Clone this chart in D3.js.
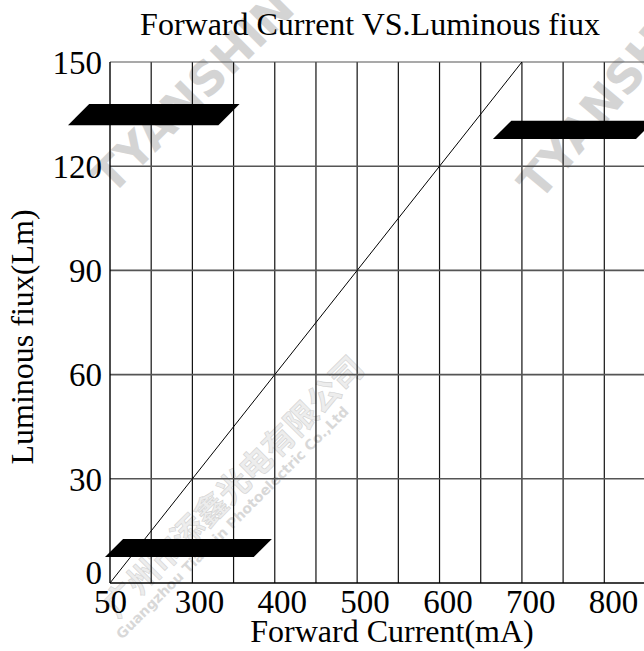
<!DOCTYPE html>
<html>
<head>
<meta charset="utf-8">
<script src="https://cdn.jsdelivr.net/npm/d3@7"></script>
<style>
  body { margin: 0; background: #fff; }
  svg { display: block; }
</style>
</head>
<body>
<div id="chart"></div>
<script>
// values
const currentTicks = [50, 300, 400, 500, 600, 700, 800];
const fluxTicks = [0, 30, 60, 90, 120, 150];
const lineCurrent = [50, 690];
const lineFlux = [0, 150];
// black patches that cover the original labels (current at the two corners, flux band)
const patchFrom = [-68, 655, 36];
const patchTo = [349, 850, 388];
const patchLow = [131.8, 127.8, 7.5];
const patchHigh = [137.9, 133.1, 12.7];

function drawChart() {
  let width = 644;
  let height = 651;
  let margin = { top: 62, left: 110, bottom: 68 };
  let serif = "'Liberation Serif', 'Times New Roman', serif";

  let svg = d3.select('#chart')
    .append('svg')
    .attr('width', width)
    .attr('height', height)
    .style('background', '#fff');

  // the axis jumps from 50 straight to 300, so the scale is piecewise
  let xScale = d3.scaleLinear()
    .domain([50, 300, 800])
    .range([margin.left, 199, 613]);
  let yScale = d3.scaleLinear()
    .domain([0, 150])
    .range([height - margin.bottom, margin.top]);
  // grid columns: ten of them span the drawn line
  let colScale = d3.scaleLinear()
    .domain([0, 10])
    .range([xScale(lineCurrent[0]), xScale(lineCurrent[1])]);

  // watermarks
  let wm = svg.append('g').attr('pointer-events', 'none');
  wm.append('text')
    .attr('transform', 'translate(112,196) rotate(-45)')
    .attr('font-family', "'DejaVu Sans', sans-serif")
    .attr('font-weight', 'bold')
    .attr('font-size', 46)
    .attr('fill', '#d4d4d4')
    .text('TYANSHIN');
  wm.append('text')
    .attr('transform', 'translate(540,202) rotate(-50)')
    .attr('font-family', "'DejaVu Sans', sans-serif")
    .attr('font-weight', 'bold')
    .attr('font-size', 46)
    .attr('fill', '#d4d4d4')
    .text('TYANSHIN');
  wm.append('text')
    .attr('transform', 'translate(117,619) rotate(-45)')
    .attr('font-family', "'Noto Sans CJK SC', sans-serif")
    .attr('font-weight', 'bold')
    .attr('font-size', 32)
    .attr('fill', '#ededed')
    .attr('stroke', '#d2d2d2')
    .attr('stroke-width', 0.6)
    .text('广州市添鑫光电有限公司');
  wm.append('text')
    .attr('transform', 'translate(122,640) rotate(-45)')
    .attr('font-family', "'DejaVu Sans', sans-serif")
    .attr('font-weight', 'bold')
    .attr('font-size', 14)
    .attr('fill', '#d8d8d8')
    .text('Guangzhou Tianxin Photoelectric Co.,Ltd');

  // vertical grid lines
  svg.append('g')
    .selectAll('line')
    .data(d3.range(1, 14))
    .enter()
    .append('line')
    .attr('x1', d => colScale(d))
    .attr('x2', d => colScale(d))
    .attr('y1', yScale(150))
    .attr('y2', yScale(0))
    .attr('stroke', '#111')
    .attr('stroke-width', 1.2);

  // horizontal grid lines
  svg.append('g')
    .selectAll('line')
    .data(fluxTicks)
    .enter()
    .append('line')
    .attr('x1', margin.left)
    .attr('x2', width)
    .attr('y1', d => yScale(d))
    .attr('y2', d => yScale(d))
    .attr('stroke', d => d === 0 ? '#000' : '#555')
    .attr('stroke-width', d => d === 150 ? 1.2 : 1.6);

  // left axis line
  svg.append('line')
    .attr('x1', margin.left)
    .attr('x2', margin.left)
    .attr('y1', yScale(150))
    .attr('y2', yScale(0))
    .attr('stroke', '#000')
    .attr('stroke-width', 1.4);

  // the curve
  let line = d3.line()
    .x(d => xScale(d[0]))
    .y(d => yScale(d[1]));
  svg.append('path')
    .datum(d3.zip(lineCurrent, lineFlux))
    .attr('d', line)
    .attr('fill', 'none')
    .attr('stroke', '#000')
    .attr('stroke-width', 1);

  // black patches
  svg.append('g')
    .selectAll('path')
    .data(d3.range(patchFrom.length))
    .enter()
    .append('path')
    .attr('d', i => {
      let x0 = xScale(patchFrom[i]);
      let x1 = xScale(patchTo[i]);
      let yLo = yScale(patchLow[i]);
      let yHi = yScale(patchHigh[i]);
      let skew = yLo - yHi;
      return 'M' + x0 + ',' + yLo + 'L' + (x0 + skew) + ',' + yHi +
        'L' + x1 + ',' + yHi + 'L' + (x1 - skew) + ',' + yLo + 'Z';
    })
    .attr('fill', '#000');

  // x ticks
  let xAxis = d3.axisBottom(xScale)
    .tickValues(currentTicks)
    .tickSize(0)
    .tickPadding(7)
    .tickFormat(d3.format('d'));
  let gx = svg.append('g')
    .attr('transform', 'translate(0,' + yScale(0) + ')')
    .call(xAxis);
  gx.select('.domain').remove();
  gx.selectAll('text')
    .attr('font-family', serif)
    .attr('font-size', 33)
    .attr('fill', '#000');

  // y ticks
  let yAxis = d3.axisLeft(yScale)
    .tickValues(fluxTicks)
    .tickSize(0)
    .tickPadding(8)
    .tickFormat(d3.format('d'));
  let gy = svg.append('g')
    .attr('transform', 'translate(' + margin.left + ',0)')
    .call(yAxis);
  gy.select('.domain').remove();
  gy.selectAll('text')
    .attr('font-family', serif)
    .attr('font-size', 33)
    .attr('fill', '#000')
    .attr('dy', d => d === 0 ? '0em' : '0.34em');

  // titles
  svg.append('text')
    .attr('x', 370)
    .attr('y', 35)
    .attr('text-anchor', 'middle')
    .attr('font-family', serif)
    .attr('font-size', 32)
    .text('Forward Current VS.Luminous fiux');
  svg.append('text')
    .attr('x', 392)
    .attr('y', 642)
    .attr('text-anchor', 'middle')
    .attr('font-family', serif)
    .attr('font-size', 32)
    .text('Forward Current(mA)');
  svg.append('text')
    .attr('transform', 'translate(33,337) rotate(-90)')
    .attr('text-anchor', 'middle')
    .attr('font-family', serif)
    .attr('font-size', 32)
    .text('Luminous fiux(Lm)');
}

drawChart();
</script>
</body>
</html>
